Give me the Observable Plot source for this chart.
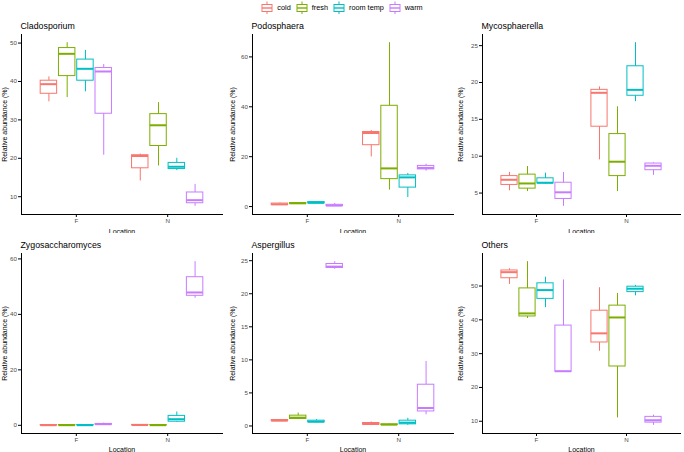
<!DOCTYPE html>
<html><head><meta charset="utf-8">
<script src="https://cdn.jsdelivr.net/npm/d3@7"></script>
<script src="https://cdn.jsdelivr.net/npm/@observablehq/plot@0.6"></script>
<style>
body{margin:0;background:#fff;font-family:"Liberation Sans",Arial,sans-serif;}
#wrap{position:relative;width:684px;height:452px;overflow:hidden;background:#fff;}
.panel{position:absolute;}
.ptitle{position:absolute;font-size:8.8px;line-height:10px;color:#000;white-space:nowrap;}
#legend{position:absolute;top:0;left:0;width:684px;height:15px;display:flex;justify-content:center;align-items:center;font-size:7.3px;color:#000;}
.litem{display:flex;align-items:center;margin:0 2.5px;}
.litem svg{margin-right:4px;}
</style></head><body><div id="wrap"><div id="legend"></div></div>
<script>
// ---------- data ----------
const locations = ["F", "N"];
const temps = ["cold", "fresh", "room temp", "warm"];
const tempColors = ["#F8766D", "#7CAE00", "#00BFC4", "#C77CFF"];
const taxa = ["Cladosporium", "Podosphaera", "Mycosphaerella", "Zygosaccharomyces", "Aspergillus", "Others"];
// each box: [lower whisker, Q1, median, Q3, upper whisker]
// order: F cold, F fresh, F room temp, F warm, N cold, N fresh, N room temp, N warm
const cladosporium = [
  [34.7, 36.8, 39.3, 40.2, 41.2], [35.8, 41.4, 47.2, 48.7, 50.1], [37.3, 40.2, 43.3, 45.7, 48.1], [20.8, 31.6, 42.6, 43.5, 44.4],
  [14.1, 17.4, 20.6, 20.8, 21.1], [18.0, 23.2, 28.6, 31.5, 34.5], [16.8, 17.2, 17.8, 18.8, 20.0], [7.5, 8.3, 9.1, 11.1, 13.2]
];
const podosphaera = [
  [0.4, 0.6, 0.9, 1.2, 1.4], [1.0, 1.1, 1.3, 1.4, 1.6], [1.2, 1.3, 1.5, 1.8, 2.0], [0.1, 0.2, 0.4, 0.7, 1.2],
  [19.9, 24.6, 29.5, 29.9, 30.5], [6.6, 11.0, 15.3, 40.4, 65.7], [3.6, 7.6, 11.7, 12.5, 13.3], [14.2, 14.9, 15.5, 16.3, 17.0]
];
const mycosphaerella = [
  [5.3, 6.1, 6.8, 7.3, 7.8], [5.2, 5.6, 6.3, 7.5, 8.6], [6.2, 6.3, 6.4, 7.0, 7.7], [3.2, 4.2, 5.1, 6.4, 7.8],
  [9.5, 14.0, 18.6, 19.0, 19.4], [5.2, 7.3, 9.25, 13.0, 16.7], [17.4, 18.2, 19.0, 22.2, 25.4], [7.4, 8.1, 8.7, 9.0, 9.1]
];
const zygosaccharomyces = [
  [0.0, 0.0, 0.05, 0.1, 0.1], [0.0, 0.0, 0.05, 0.1, 0.1], [0.0, 0.0, 0.05, 0.1, 0.1], [0.1, 0.2, 0.4, 0.5, 0.8],
  [0.0, 0.05, 0.1, 0.15, 0.2], [0.0, 0.0, 0.05, 0.1, 0.1], [1.0, 1.3, 2.2, 3.4, 4.8], [45.8, 46.7, 47.9, 53.4, 59.0]
];
const aspergillus = [
  [0.7, 0.75, 0.8, 0.9, 0.95], [0.96, 1.06, 1.26, 1.56, 1.96], [0.5, 0.55, 0.65, 0.8, 0.96], [23.7, 23.9, 24.1, 24.5, 24.85],
  [0.1, 0.2, 0.3, 0.45, 0.6], [0.1, 0.15, 0.2, 0.25, 0.3], [0.1, 0.25, 0.5, 0.8, 1.16], [1.7, 2.2, 2.72, 6.24, 9.76]
];
const others = [
  [50.5, 52.3, 54.1, 54.6, 55.1], [40.4, 41.0, 41.9, 49.3, 57.2], [43.6, 46.2, 48.8, 50.8, 52.6], [24.6, 24.6, 24.8, 38.3, 51.8],
  [30.7, 33.3, 36.0, 42.7, 49.5], [11.0, 26.2, 40.7, 44.2, 47.8], [47.1, 48.2, 49.2, 49.8, 50.2], [8.8, 9.6, 10.3, 11.3, 11.8]
];
const panelStats = [cladosporium, podosphaera, mycosphaerella, zygosaccharomyces, aspergillus, others];
const yTicks = [
  [10, 20, 30, 40, 50], [0, 20, 40, 60], [5, 10, 15, 20, 25],
  [0, 20, 40, 60], [0, 5, 10, 15, 20, 25], [10, 20, 30, 40, 50]
];
const yLabel = "Relative abundance (%)";
const xLabel = "Location";

// ---------- legend ----------
const legend = document.getElementById("legend");
temps.forEach((t, i) => {
  const item = document.createElement("div");
  item.className = "litem";
  const c = tempColors[i];
  item.innerHTML = `<svg width="12" height="14" viewBox="0 0 12 14">
    <line x1="6" y1="0.5" x2="6" y2="3.5" stroke="${c}" stroke-width="1"/>
    <line x1="6" y1="10.5" x2="6" y2="13.5" stroke="${c}" stroke-width="1"/>
    <rect x="1" y="3.5" width="10" height="7" fill="white" stroke="${c}" stroke-width="1"/>
    <line x1="1" y1="7" x2="11" y2="7" stroke="${c}" stroke-width="1.4"/>
  </svg><span>${t}</span>`;
  legend.appendChild(item);
});

// ---------- panels ----------
const wrap = document.getElementById("wrap");
const colLeft = [0, 228, 456];
const colML = [21, 24, 26];
const colMR = [6, 3, 4];
const rowTop = [14, 233];
const rowH = [220, 219];
const rowMB = [20, 19];
const titleTop = [21, 240];

panelStats.forEach((stats, idx) => {
  const col = idx % 3, row = Math.floor(idx / 3);
  const width = 228, height = rowH[row];
  const ml = colML[col], mr = colMR[col], mt = 20, mb = rowMB[row];
  const rows = stats.map((s, k) => ({
    loc: locations[Math.floor(k / 4)], temp: temps[k % 4],
    lo: s[0], q1: s[1], med: s[2], q3: s[3], hi: s[4]
  }));
  const lo = d3.min(rows, d => d.lo), hi = d3.max(rows, d => d.hi);
  const pad = (hi - lo) * 0.05;
  const plotW = width - ml - mr;
  const step = plotW / 2.2;
  const sub = 0.8 * step / 4;
  const marks = [];
  temps.forEach((t, i) => {
    const data = rows.filter(d => d.temp === t);
    const dx = (i + 0.5) * sub - 2 * sub;
    const inL = i * sub + 0.05 * sub, inR = (3 - i) * sub + 0.05 * sub;
    marks.push(Plot.ruleX(data, {x: "loc", y1: "lo", y2: "hi", stroke: tempColors[i], strokeWidth: 1, dx}));
    marks.push(Plot.barY(data, {x: "loc", y1: "q1", y2: "q3", fill: "white", stroke: tempColors[i], strokeWidth: 1, insetLeft: inL, insetRight: inR}));
    marks.push(Plot.tickY(data, {x: "loc", y: "med", stroke: tempColors[i], strokeWidth: 2, insetLeft: inL, insetRight: inR}));
  });
  const svg = Plot.plot({
    width, height,
    marginLeft: ml, marginRight: mr, marginTop: mt, marginBottom: mb,
    style: {fontFamily: "Liberation Sans, Arial, sans-serif", fontSize: "6.2px", background: "white", overflow: "visible"},
    x: {type: "band", domain: locations, paddingInner: 0.2, paddingOuter: 0.2, round: false},
    y: {domain: [lo - pad, hi + pad]},
    marks: [
      ...marks,
      Plot.frame({anchor: "left", stroke: "black", strokeWidth: 1}),
      Plot.frame({anchor: "bottom", stroke: "black", strokeWidth: 1}),
      Plot.axisY({ticks: yTicks[idx], tickSize: 3, tickPadding: 1.5, stroke: "black", fill: "#4d4d4d",
        label: yLabel, labelAnchor: "center", labelOffset: ml - 2, labelArrow: "none"}),
      Plot.axisX({tickSize: 3, tickPadding: 1.5, stroke: "black", fill: "#4d4d4d",
        label: xLabel, labelAnchor: "center", labelOffset: mb - 1, labelArrow: "none"})
    ]
  });
  svg.querySelectorAll('[aria-label$="axis label"]').forEach(g => {
    g.setAttribute("font-size", "7px");
    g.setAttribute("fill", "black");
    g.querySelectorAll("text").forEach(t => { t.setAttribute("fill", "black"); t.style.fontSize = "7px"; });
  });
  const div = document.createElement("div");
  div.className = "panel";
  div.style.left = colLeft[col] + "px";
  div.style.top = rowTop[row] + "px";
  div.appendChild(svg);
  wrap.appendChild(div);
  const title = document.createElement("div");
  title.className = "ptitle";
  title.textContent = taxa[idx];
  title.style.left = (colLeft[col] + ml - 0.5) + "px";
  title.style.top = titleTop[row] + "px";
  wrap.appendChild(title);
});
</script></body></html>
